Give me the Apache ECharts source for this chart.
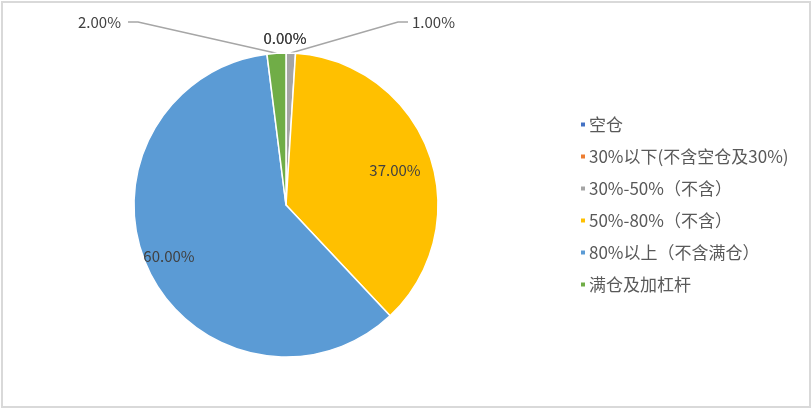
<!DOCTYPE html>
<html>
<head>
<meta charset="utf-8">
<script src="https://cdn.jsdelivr.net/npm/echarts@6/dist/echarts.min.js"></script>
<style>
html,body{margin:0;padding:0;background:#fff;}
#frame{position:absolute;left:1px;top:1px;width:810px;height:407px;box-sizing:border-box;border:2px solid #d9d9d9;}
#chart{position:absolute;left:0;top:0;width:812px;height:410px;}
</style>
</head>
<body>
<div id="frame"></div>
<div id="chart"></div>
<script>
const categories = ['空仓', '30%以下(不含空仓及30%)', '30%-50%（不含）', '50%-80%（不含）', '80%以上（不含满仓）', '满仓及加杠杆'];
const values = [0, 0, 1, 37, 60, 2];
const colors = ['#4472C4', '#ED7D31', '#A5A5A5', '#FFC000', '#5B9BD5', '#70AD47'];
const labelTexts = ['0.00%', '0.00%', '1.00%', '37.00%', '60.00%', '2.00%'];

const chart = echarts.init(document.getElementById('chart'));
const labelPos = {
  0: {x: 285, y: 38, align: 'center'},
  1: {x: 285, y: 38, align: 'center'},
  2: {x: 412, y: 22, align: 'left'},
  3: {x: 395, y: 170, align: 'center'},
  4: {x: 169, y: 256, align: 'center'},
  5: {x: 121, y: 22, align: 'right'}
};
chart.setOption({
  animation: false,
  legend: {
    orient: 'vertical',
    left: 574,
    top: 111,
    itemWidth: 6,
    itemHeight: 6,
    itemGap: 15,
    icon: 'rect',
    textStyle: {color: '#595959', fontSize: 17, fontFamily: 'Noto Sans CJK SC', padding: [0, 0, 0, -2]},
    data: categories
  },
  series: [{
    type: 'pie',
    center: [286, 205],
    radius: [0, 152],
    startAngle: 90,
    clockwise: true,
    minAngle: 0,
    avoidLabelOverlap: false,
    itemStyle: {borderColor: '#fff', borderWidth: 1.5},
    label: {
      show: true,
      color: '#404040',
      fontSize: 15,
      fontFamily: 'Noto Sans CJK SC',
      formatter: p => labelTexts[p.dataIndex]
    },
    labelLine: {show: false, lineStyle: {color: '#A6A6A6', width: 1.5}},
    data: categories.map((c, i) => ({
      name: c,
      value: values[i],
      itemStyle: {color: colors[i]},
      label: {position: (i === 3 || i === 4) ? 'inside' : 'outside'},
      labelLine: {show: i === 2 || i === 5, length: 10, length2: 10}
    })),
    labelLayout: function (params) {
      const p = labelPos[params.dataIndex];
      const res = {x: p.x, y: p.y, align: p.align, verticalAlign: 'middle', hideOverlap: false, moveOverlap: false};
      if ((params.dataIndex === 2 || params.dataIndex === 5) && params.labelLinePoints) {
        const s = params.labelLinePoints[0];
        const ex = params.dataIndex === 2 ? p.x - 4 : p.x + 7;
        const mx = params.dataIndex === 2 ? ex - 10 : ex + 10;
        res.labelLinePoints = [s, [mx, p.y], [ex, p.y]];
      }
      return res;
    }
  }]
});
</script>
</body>
</html>
